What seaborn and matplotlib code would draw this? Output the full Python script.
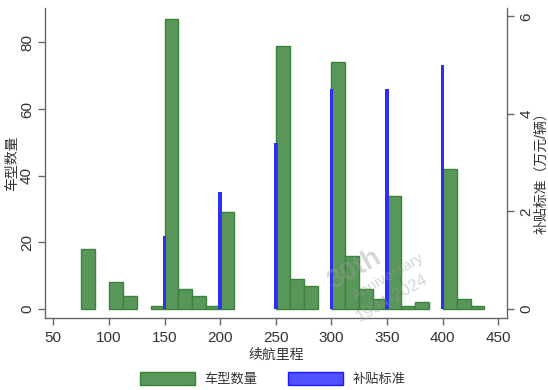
import numpy as np
import pandas as pd
import matplotlib
matplotlib.use("Agg")
import matplotlib.pyplot as plt
import seaborn as sns
from matplotlib.patches import Patch

# Range bins (left edge, km) and number of vehicle models in each bin
bin_start = [75, 100, 112.5, 137.5, 150, 162.5, 175, 187.5, 200,
             250, 262.5, 275, 300, 312.5, 325, 337.5, 350, 362.5, 375,
             400, 412.5, 425]
model_count = [18, 8, 4, 1, 87, 6, 4, 1, 29,
               79, 9, 7, 74, 16, 6, 3, 34, 1, 2,
               42, 3, 1]
bin_width = 12.5

# Subsidy standard (10k CNY per vehicle) by range threshold
subsidy_range = [150, 200, 250, 300, 350, 400]
subsidy = [1.5, 2.4, 3.4, 4.5, 4.5, 5.0]

x_ticks = [50, 100, 150, 200, 250, 300, 350, 400, 450]
left_ticks = [0, 20, 40, 60, 80]
right_ticks = [0, 2, 4, 6]

GREEN_FILL = "#599659"
GREEN_EDGE = "#3b823b"
BLUE = "#2e2ef5"
SPINE = "#666666"
TEXT = "#333333"

sns.set_theme(style="white")
plt.rcParams["font.family"] = ["Liberation Sans", "Noto Sans CJK SC"]

W, H = 548, 390
fig = plt.figure(figsize=(W / 100, H / 100), dpi=100)
ax = fig.add_axes([45 / W, 1 - 318 / H, 462 / W, 310 / H])

df = pd.DataFrame({"续航里程": np.array(bin_start) + bin_width / 2,
                   "车型数量": model_count})
edges = np.arange(75, 437.5 + bin_width / 2, bin_width).tolist()
sns.histplot(data=df, x="续航里程", weights="车型数量", bins=edges,
             facecolor=GREEN_FILL, edgecolor=GREEN_EDGE, linewidth=1.0,
             alpha=1, ax=ax)
# empty bins would otherwise leave a flat edge line on the baseline
for p in ax.patches:
    if p.get_height() == 0:
        p.set_visible(False)

ax2 = ax.twinx()
sns.barplot(x=subsidy_range, y=subsidy, native_scale=True, width=3.2 / 50,
            color=BLUE, saturation=1, errorbar=None, linewidth=0, ax=ax2)

ax.set_xlim(42.5, 457.8)
ax.set_ylim(-2.7, 90.3)
ax2.set_ylim(-0.185, 6.17)
ax.set_xticks(x_ticks)
ax.set_yticks(left_ticks)
ax2.set_yticks(right_ticks)

for a in (ax, ax2):
    for s in a.spines.values():
        s.set_color(SPINE)
        s.set_linewidth(1.0)
    a.spines["top"].set_visible(False)
    a.grid(False)
ax.spines["right"].set_visible(False)
ax2.spines["left"].set_visible(False)
ax2.spines["bottom"].set_visible(False)

ax.tick_params(axis="x", bottom=True, direction="out", length=5, width=1,
               color=SPINE, labelsize=11, labelcolor=TEXT, pad=4)
ax.tick_params(axis="y", left=True, direction="out", length=5, width=1,
               color=SPINE, labelsize=11, labelcolor=TEXT, pad=3,
               labelrotation=90)
ax2.tick_params(axis="y", right=True, direction="out", length=5, width=1,
                color=SPINE, labelsize=11, labelcolor=TEXT, pad=4,
                labelrotation=90)
for t in ax.get_yticklabels():
    t.set_va("center")
for t in ax2.get_yticklabels():
    t.set_va("center")

ax.set_xlabel("续航里程", fontsize=10, color=TEXT, labelpad=2)
ax.set_ylabel("车型数量", fontsize=10, color=TEXT)
ax2.set_ylabel("补贴标准（万元/辆）", fontsize=10, color=TEXT, rotation=90)
ax.yaxis.set_label_coords((19 - 45) / 462, 0.5)
ax2.yaxis.set_label_coords((534 - 45) / 462, 0.48)

handles = [Patch(facecolor=GREEN_FILL, edgecolor=GREEN_EDGE, linewidth=1),
           Patch(facecolor="#5050ff", edgecolor="#1a1aff", linewidth=1)]
fig.legend(handles, ["车型数量", "补贴标准"], loc="center",
           bbox_to_anchor=(0.497, 0.028), ncol=2, frameon=False,
           fontsize=9.5, handlelength=4.2, handleheight=1.1,
           handletextpad=0.7, columnspacing=2.3, labelcolor=TEXT)

# faint anniversary watermark
wm = dict(color="#9a9a9a", alpha=0.4, rotation=30, ha="center",
          va="center", zorder=10)
fig.text(355 / W, 1 - 270 / H, "30th", fontsize=20, fontweight="bold", **wm)
fig.text(388 / W, 1 - 277 / H, "Anniversary", fontsize=11, **wm)
fig.text(392 / W, 1 - 298 / H, "1994-2024", fontsize=12, **wm)

fig.savefig("out.png", dpi=100)
